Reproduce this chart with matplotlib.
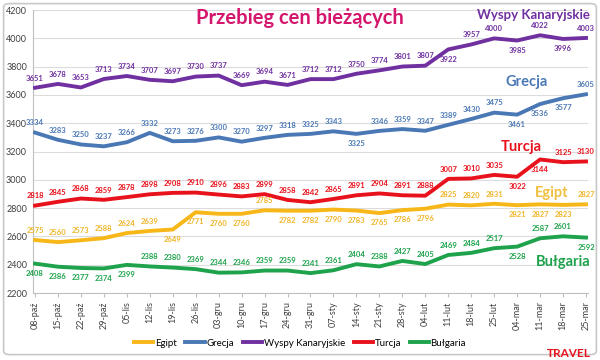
import matplotlib
matplotlib.use("Agg")
import matplotlib.pyplot as plt
from matplotlib.patches import FancyBboxPatch
import numpy as np

plt.rcParams["font.family"] = ["Lato", "DejaVu Sans"]

dates = ["08-paź", "15-paź", "22-paź", "29-paź", "05-lis", "12-lis", "19-lis", "26-lis",
         "03-gru", "10-gru", "17-gru", "24-gru", "31-gru", "07-sty", "14-sty", "21-sty",
         "28-sty", "04-lut", "11-lut", "18-lut", "25-lut", "04-mar", "11-mar", "18-mar", "25-mar"]

egipt = [2575, 2560, 2573, 2588, 2624, 2639, 2649, 2771, 2760, 2760, 2785, 2782, 2782,
         2790, 2783, 2765, 2786, 2796, 2825, 2820, 2831, 2821, 2827, 2823, 2827]
grecja = [3334, 3283, 3250, 3237, 3266, 3332, 3273, 3276, 3300, 3270, 3297, 3318, 3325,
          3343, 3325, 3346, 3359, 3347, 3389, 3430, 3475, 3461, 3536, 3577, 3605]
wyspy = [3651, 3678, 3653, 3713, 3734, 3707, 3697, 3730, 3737, 3669, 3694, 3671, 3712,
         3712, 3750, 3774, 3801, 3807, 3922, 3957, 4000, 3985, 4022, 3996, 4003]
turcja = [2818, 2845, 2868, 2859, 2878, 2898, 2908, 2910, 2896, 2883, 2899, 2858, 2842,
          2865, 2891, 2904, 2891, 2888, 3007, 3010, 3035, 3022, 3144, 3125, 3130]
bulgaria = [2408, 2386, 2377, 2374, 2399, 2388, 2380, 2369, 2344, 2346, 2359, 2359, 2341,
            2361, 2404, 2388, 2427, 2405, 2469, 2484, 2517, 2528, 2587, 2601, 2592]

# (nazwa, dane, kolor linii, kolor etykiet, indeksy z etykietą pod linią)
series = [
    ("Egipt", egipt, "#f7b718", "#f0b52a", {6, 7, 8, 9, 11, 12, 13, 14, 15, 16, 17, 21, 22, 23}),
    ("Grecja", grecja, "#4a78b5", "#4a78b5", {14, 21, 22, 23}),
    ("Wyspy Kanaryjskie", wyspy, "#7030a0", "#7030a0", {18, 21, 23}),
    ("Turcja", turcja, "#e8121c", "#e8121c", {21, 22}),
    ("Bułgaria", bulgaria, "#1ea34c", "#1ea34c", {0, 1, 2, 3, 4, 21, 24}),
]

fig = plt.figure(figsize=(6, 3.6), dpi=100)
fig.patches.append(FancyBboxPatch((0.006, 0.015), 0.988, 0.975, boxstyle="round,pad=0,rounding_size=0.01",
                                  transform=fig.transFigure, fill=False, ec="#c8c8c8", lw=1.2))
ax = fig.add_axes([0.0545, 0.186, 0.926, 0.786])
x = np.arange(len(dates))

for name, vals, col, tcol, below in series:
    ax.plot(x, vals, color=col, lw=2.8, label=name, solid_joinstyle="round", zorder=3)
    for i, v in enumerate(vals):
        dy = -7 if i in below else 7
        ax.annotate(str(v), (i, v), xytext=(0, dy), textcoords="offset points",
                    ha="center", va="center", fontsize=5.5, color=tcol, fontweight="bold", zorder=4)

ax.set_xlim(-0.1, 24.1)
ax.set_ylim(2200, 4200)
ax.set_yticks(range(2200, 4201, 200))
ax.set_xticks(x)
ax.set_xticklabels(dates, rotation=90, fontsize=6.5, color="#404040")
ax.tick_params(axis="y", labelsize=6.5, colors="#404040", length=0, pad=4)
ax.tick_params(axis="x", length=3, color="#bfbfbf", pad=3)
ax.grid(axis="y", color="#dcdcdc", lw=0.8)
ax.set_axisbelow(True)
for s in ["top", "right"]:
    ax.spines[s].set_visible(False)
for s in ["left", "bottom"]:
    ax.spines[s].set_color("#bfbfbf")

fig.text(0.5, 0.95, "Przebieg cen bieżących", ha="center", va="center", fontsize=14.5,
         fontweight="bold", color="#d4166d")
ax.text(21.7, 4165, "Wyspy Kanaryjskie", color="#7030a0", fontsize=9.5, fontweight="bold", ha="center", va="center")
ax.text(21.4, 3691, "Grecja", color="#4a78b5", fontsize=10.5, fontweight="bold", ha="center", va="center")
ax.text(21.2, 3232, "Turcja", color="#e8121c", fontsize=10.5, fontweight="bold", ha="center", va="center")
ax.text(22.5, 2907, "Egipt", color="#f0c040", fontsize=10.5, fontweight="bold", ha="center", va="center")
ax.text(23.0, 2419, "Bułgaria", color="#1ea34c", fontsize=10.5, fontweight="bold", ha="center", va="center")

fig.legend(loc="center", bbox_to_anchor=(0.5, 0.047), ncol=5, frameon=False, fontsize=7,
           handlelength=2.0, columnspacing=0.9, handletextpad=0.15)
fig.text(0.985, 0.003, "TRAVEL", ha="right", va="bottom", fontsize=8.5, color="#e8121c", fontweight="bold")

fig.savefig("out.png", dpi=100)
